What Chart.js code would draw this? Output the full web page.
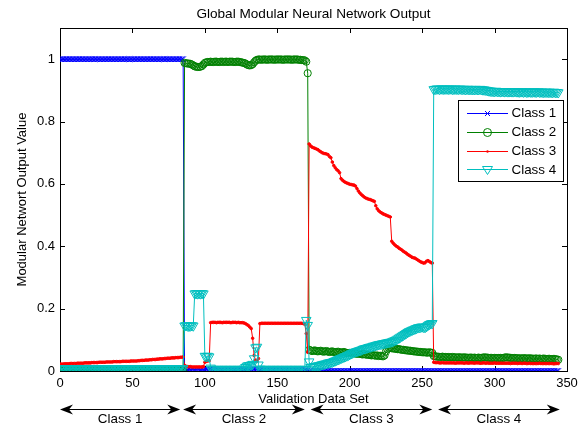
<!DOCTYPE html>
<html>
<head>
<meta charset="utf-8">
<script src="https://cdn.jsdelivr.net/npm/chart.js@4.4.0/dist/chart.umd.min.js"></script>
<style>
  html, body { margin: 0; padding: 0; background: #fff; }
  canvas { display: block; }
</style>
</head>
<body>
<canvas id="modular_chart" width="585" height="428"></canvas>
<script>
const chartTitle = 'Global Modular Neural Network Output';
const xTitle = 'Validation Data Set';
const yTitle = 'Modular Networt Output Value';

const classNames = ['Class 1', 'Class 2', 'Class 3', 'Class 4'];
const classColors = ['#0000ff', '#008000', '#ff0000', '#00bfbf'];

const xTickValues = [0, 50, 100, 150, 200, 250, 300, 350];
const xTickLabels = ['0', '50', '100', '150', '200', '250', '300', '350'];
const yTickValues = [0, 0.2, 0.4, 0.6, 0.8, 1];
const yTickLabels = ['0', '0.2', '0.4', '0.6', '0.8', '1'];

// sample ranges under the arrows below the axis (data units)
const arrowSpans = [[0, 83], [85, 169], [173, 257], [261, 345]];

// output of each class neuron, one value per validation sample (0..344)
const class1Out = [
  1,1,1,1,1,1,1,1,1,1, 1,1,1,1,1,1,1,1,1,1, 1,1,1,1,1,1,1,1,1,1, 1,1,1,1,1,1,1,1,1,1,
  1,1,1,1,1,1,1,1,1,1, 1,1,1,1,1,1,1,1,1,1, 1,1,1,1,1,1,1,1,1,1, 1,1,1,1,1,1,1,1,1,1,
  1,1,1,1,1,1,
  .004,.005,.005,.006,.005,.005,.006,.005,.005,.006, .005,.005,.006,.005,.005,.005,.004,.004,.004,.003,
  .003,.003,.003,.003,.003,.003,.003,.003,.003,.003, .003,.003,.003,.003,.003,.003,.003,.003,.003,.003,
  .003,.003,.003,.003,.003,.004,.005,.006,.006,.006, .006,.005,.004,.003,.003,.003,.003,.003,.003,.003,
  .003,.003,.003,.003,.003,.003,.003,.003,.003,.003, .003,.003,.003,.003,.003,.003,.003,.003,.003,.003,
  .003,.003,.003,.003,.003,.002,
  0,0,0,0,0,0,0,0,0,0, 0,0,0,0,0,0,0,0,0,0, 0,0,0,0,0,0,0,0,0,0, 0,0,0,0,0,0,0,0,0,0,
  0,0,0,0,0,0,0,0,0,0, 0,0,0,0,0,0,0,0,0,0, 0,0,0,0,0,0,0,0,0,0, 0,0,0,0,0,0,0,0,0,0,
  0,0,0,0,0,0,
  0,0,0,0,0,0,0,0,0,0, 0,0,0,0,0,0,0,0,0,0, 0,0,0,0,0,0,0,0,0,0, 0,0,0,0,0,0,0,0,0,0,
  0,0,0,0,0,0,0,0,0,0, 0,0,0,0,0,0,0,0,0,0, 0,0,0,0,0,0,0,0,0,0, 0,0,0,0,0,0,0,0,0,0,
  0,0,0,0,0,0,0
];

const class2Out = [
  .003,.002,.002,.003,.002,.002,.002,.003,.002,.002, .003,.002,.002,.003,.002,.002,.002,.003,.002,.002,
  .003,.002,.002,.003,.002,.002,.002,.003,.002,.002, .003,.002,.002,.003,.002,.002,.002,.003,.002,.002,
  .003,.002,.002,.003,.002,.002,.002,.003,.002,.002, .003,.002,.002,.003,.002,.002,.002,.003,.002,.002,
  .003,.002,.002,.003,.002,.002,.002,.003,.002,.002, .003,.002,.002,.003,.002,.002,.002,.003,.002,.002,
  .002,.002,.003,.002,.002,.002,
  .988,.987,.986,.986,.985,.983,.980,.977,.976,.975, .975,.976,.978,.983,.988,.990,.991,.991,.992,.991,
  .991,.992,.992,.991,.991,.992,.992,.991,.992,.992, .991,.992,.992,.992,.991,.991,.992,.992,.991,.990,
  .989,.988,.986,.983,.981,.980,.981,.984,.990,.995, .998,.999,.999,.998,.999,.999,.999,.998,.999,.999,
  .999,.999,.998,.999,.999,.999,.999,.999,.998,.999, .999,.999,.999,.999,.998,.999,.999,.999,.999,.998,
  .998,.997,.997,.996,.992,.955,
  .068,.066,.064,.065,.066,.064,.063,.064,.065,.063, .062,.063,.064,.062,.061,.062,.063,.061,.060,.061,
  .062,.060,.059,.060,.061,.059,.058,.057,.058,.057, .056,.057,.056,.055,.056,.055,.054,.053,.054,.053,
  .052,.053,.051,.050,.051,.050,.049,.050,.048,.049, .048,.047,.050,.062,.070,.073,.074,.073,.072,.072,
  .071,.070,.070,.069,.068,.068,.067,.066,.066,.065, .065,.064,.063,.063,.062,.062,.061,.061,.060,.060,
  .060,.059,.059,.060,.059,.058,
  .048,.047,.046,.046,.045,.045,.046,.045,.045,.044, .045,.044,.044,.045,.044,.044,.043,.044,.044,.043,
  .043,.044,.043,.043,.042,.043,.043,.042,.043,.042, .042,.043,.042,.042,.043,.044,.043,.043,.042,.042,
  .042,.041,.042,.042,.041,.042,.042,.041,.042,.043, .044,.043,.043,.042,.042,.041,.042,.041,.041,.040,
  .041,.040,.041,.041,.040,.040,.041,.040,.040,.039, .040,.040,.039,.040,.039,.039,.040,.039,.038,.039,
  .039,.038,.038,.039,.038,.037,.036
];

const class3Out = [
  .022,.022,.022,.023,.023,.023,.023,.024,.024,.024, .024,.024,.025,.025,.025,.025,.025,.026,.026,.026,
  .026,.026,.027,.027,.027,.027,.027,.028,.028,.028, .028,.028,.029,.029,.029,.029,.029,.030,.030,.030,
  .030,.030,.030,.031,.031,.031,.031,.031,.031,.032, .032,.032,.032,.032,.033,.033,.034,.034,.034,.035,
  .035,.035,.036,.036,.037,.037,.037,.038,.038,.039, .039,.039,.040,.040,.041,.041,.041,.042,.042,.042,
  .043,.043,.043,.044,.044,.045,
  .018,.015,.014,.014,.014,.013,.013,.013,.013,.013, .013,.013,.013,.014,.028,.031,.032,.033,.155,.156,
  .156,.156,.155,.156,.156,.156,.155,.156,.156,.156, .156,.156,.155,.156,.156,.156,.155,.156,.155,.155,
  .155,.154,.152,.149,.146,.141,.136,.105,.050,.034, .032,.040,.152,.153,.153,.153,.153,.153,.153,.153,
  .153,.153,.153,.153,.153,.153,.153,.153,.153,.153, .153,.153,.153,.153,.153,.153,.153,.153,.153,.153,
  .153,.153,.152,.150,.120,.060,
  .728,.722,.718,.716,.714,.712,.710,.706,.703,.700, .698,.697,.696,.694,.688,.684,.670,.659,.652,.646,
  .642,.636,.617,.612,.608,.605,.603,.601,.599,.598, .597,.596,.593,.585,.577,.571,.566,.562,.558,.555,
  .553,.551,.550,.548,.546,.544,.530,.520,.514,.510, .507,.504,.502,.500,.498,.496,.494,.416,.410,.405,
  .401,.398,.394,.391,.388,.384,.381,.378,.374,.371, .368,.365,.363,.362,.359,.356,.353,.350,.348,.346,
  .347,.352,.354,.351,.348,.346,
  .028,.027,.027,.027,.026,.026,.027,.026,.026,.026, .026,.026,.026,.026,.026,.025,.026,.026,.026,.026,
  .026,.025,.026,.026,.025,.026,.026,.026,.025,.026, .026,.026,.025,.025,.026,.026,.025,.026,.025,.025,
  .025,.025,.026,.025,.025,.025,.025,.025,.025,.025, .025,.025,.025,.024,.025,.025,.025,.025,.024,.025,
  .025,.024,.025,.025,.024,.024,.025,.024,.024,.024, .024,.024,.024,.025,.024,.024,.024,.024,.024,.024,
  .024,.024,.024,.023,.024,.024,.024
];

const class4Out = [
  .008,.007,.008,.008,.007,.008,.008,.007,.008,.008, .008,.007,.008,.008,.007,.008,.008,.007,.008,.008,
  .008,.007,.008,.008,.007,.008,.008,.007,.008,.008, .008,.007,.008,.008,.007,.008,.008,.007,.008,.008,
  .008,.007,.008,.008,.007,.008,.008,.007,.008,.008, .008,.007,.008,.008,.007,.008,.008,.007,.008,.008,
  .008,.007,.008,.008,.007,.008,.008,.007,.008,.008, .008,.007,.008,.008,.007,.008,.008,.007,.008,.008,
  .008,.007,.008,.008,.007,.008,
  .145,.146,.145,.144,.145,.146,.145,.248,.249,.248, .249,.248,.249,.248,.048,.047,.048,.046,.010,.006,
  .006,.005,.006,.006,.005,.006,.006,.005,.006,.006, .005,.006,.006,.005,.006,.006,.005,.006,.006,.005,
  .006,.007,.012,.016,.018,.018,.020,.022,.040,.075, .077,.020,.007,.006,.005,.006,.006,.005,.006,.006,
  .005,.006,.006,.005,.006,.006,.005,.006,.006,.005, .006,.006,.005,.006,.006,.005,.006,.006,.005,.006,
  .006,.005,.006,.006,.163,.147,
  .030,.012,.013,.014,.015,.016,.017,.018,.019,.021, .022,.023,.024,.026,.027,.028,.029,.031,.033,.035,
  .037,.039,.041,.043,.045,.047,.049,.051,.053,.056, .058,.060,.062,.063,.065,.066,.068,.070,.072,.073,
  .074,.076,.077,.078,.080,.081,.082,.084,.085,.086, .087,.088,.089,.090,.091,.092,.093,.094,.096,.098,
  .100,.103,.106,.109,.112,.115,.118,.121,.124,.127, .129,.131,.133,.135,.137,.139,.140,.141,.142,.141,
  .140,.143,.147,.150,.152,.153,
  .903,.904,.905,.905,.904,.905,.905,.904,.905,.905, .904,.905,.905,.904,.904,.905,.904,.904,.905,.904,
  .904,.904,.903,.904,.904,.903,.904,.903,.903,.904, .903,.903,.904,.903,.902,.902,.901,.900,.899,.898,
  .898,.897,.897,.898,.897,.897,.896,.897,.897,.896, .897,.896,.896,.897,.896,.896,.897,.896,.896,.895,
  .896,.896,.895,.896,.895,.895,.896,.895,.895,.896, .895,.895,.896,.895,.895,.895,.894,.895,.895,.894,
  .895,.894,.894,.895,.894,.894,.893
];

const seriesValues = [class1Out, class2Out, class3Out, class4Out];
const markerStyles = [
  { pointStyle: 'crossRot', radius: 4, rotation: 0, fill: 'transparent' },
  { pointStyle: 'circle', radius: 3.6, rotation: 0, fill: 'transparent' },
  { pointStyle: 'circle', radius: 1.3, rotation: 0, fill: '#ff0000' },
  { pointStyle: 'triangle', radius: 5.5, rotation: 180, fill: 'transparent' }
];

Chart.defaults.font.family = '"Liberation Sans", Arial, Helvetica, sans-serif';
Chart.defaults.font.size = 13;
Chart.defaults.color = '#000';

const ctx = document.getElementById('modular_chart');

function drawMarker(c, i, x, y) {
  const color = classColors[i];
  c.save();
  c.strokeStyle = color;
  c.fillStyle = color;
  c.lineWidth = 1;
  c.beginPath();
  if (i === 0) {
    c.moveTo(x - 2.5, y - 2.5); c.lineTo(x + 2.5, y + 2.5);
    c.moveTo(x + 2.5, y - 2.5); c.lineTo(x - 2.5, y + 2.5);
    c.stroke();
  } else if (i === 1) {
    c.arc(x, y, 4, 0, Math.PI * 2);
    c.stroke();
  } else if (i === 2) {
    c.arc(x, y, 1.2, 0, Math.PI * 2);
    c.fill();
  } else {
    c.moveTo(x - 5, y - 3); c.lineTo(x + 5, y - 3); c.lineTo(x, y + 5); c.closePath();
    c.stroke();
  }
  c.restore();
}

const matlabFrame = {
  id: 'matlabFrame',
  beforeDatasetsDraw(chart) {
    const c = chart.ctx;
    const a = chart.chartArea;
    const xs = chart.scales.x, ys = chart.scales.y;
    c.save();
    c.strokeStyle = '#000';
    c.lineWidth = 1;
    c.beginPath();
    xTickValues.forEach(v => {
      const px = Math.round(xs.getPixelForValue(v)) + 0.5;
      c.moveTo(px, a.bottom); c.lineTo(px, a.bottom - 5);
      c.moveTo(px, a.top); c.lineTo(px, a.top + 5);
    });
    yTickValues.forEach(v => {
      const py = Math.round(ys.getPixelForValue(v)) + 0.5;
      c.moveTo(a.left, py); c.lineTo(a.left + 5, py);
      c.moveTo(a.right, py); c.lineTo(a.right - 5, py);
    });
    c.stroke();
    c.strokeRect(Math.round(a.left) + 0.5, Math.round(a.top) + 0.5,
      Math.round(a.right - a.left), Math.round(a.bottom - a.top));
    c.restore();
  },
  afterDatasetsDraw(chart) {
    // legend box, top right inside the axes
    const c = chart.ctx;
    const bx = 458.5, by = 100.5, bw = 105, bh = 81;
    c.save();
    c.fillStyle = '#fff';
    c.fillRect(bx, by, bw, bh);
    c.strokeStyle = '#000';
    c.lineWidth = 1;
    c.strokeRect(bx, by, bw, bh);
    c.font = '13.4px "Liberation Sans", Arial, sans-serif';
    c.textBaseline = 'middle';
    c.textAlign = 'left';
    classNames.forEach((name, i) => {
      const y = 113 + i * 18.8;
      c.strokeStyle = classColors[i];
      c.beginPath();
      c.moveTo(467, Math.round(y) + 0.5); c.lineTo(508, Math.round(y) + 0.5);
      c.stroke();
      drawMarker(c, i, 487.5, Math.round(y) + 0.5);
      c.fillStyle = '#000';
      c.fillText(name, 511.5, y + 0.5);
    });
    c.restore();
  },
  afterDraw(chart) {
    const c = chart.ctx;
    const a = chart.chartArea;
    const xs = chart.scales.x;
    c.save();
    c.fillStyle = '#000';
    c.font = '13.6px "Liberation Sans", Arial, sans-serif';
    c.textAlign = 'center';
    c.textBaseline = 'middle';
    c.fillText(chartTitle, (a.left + a.right) / 2, 14.5);

    // class arrows under the x axis
    c.font = '13.4px "Liberation Sans", Arial, sans-serif';
    const ay = 409.5;
    c.strokeStyle = '#000';
    c.lineWidth = 1.2;
    arrowSpans.forEach((span, i) => {
      const x1 = xs.getPixelForValue(span[0]);
      const x2 = xs.getPixelForValue(span[1]);
      c.beginPath();
      c.moveTo(x1 + 6, ay); c.lineTo(x2 - 6, ay);
      c.stroke();
      [[x1, 1], [x2, -1]].forEach(([x, d]) => {
        c.beginPath();
        c.moveTo(x, ay);
        c.lineTo(x + d * 13, ay - 5);
        c.lineTo(x + d * 9, ay);
        c.lineTo(x + d * 13, ay + 5);
        c.closePath();
        c.fill();
      });
      c.fillText(classNames[i], (x1 + x2) / 2, 419.5);
    });
    c.restore();
  }
};

const datasets = seriesValues.map((vals, i) => ({
  label: classNames[i],
  data: vals.map((v, k) => ({ x: k, y: v })),
  borderColor: classColors[i],
  borderWidth: 1,
  pointStyle: markerStyles[i].pointStyle,
  pointRadius: markerStyles[i].radius,
  pointRotation: markerStyles[i].rotation,
  pointBorderColor: classColors[i],
  pointBackgroundColor: markerStyles[i].fill,
  pointBorderWidth: 1,
  pointHoverRadius: markerStyles[i].radius,
  tension: 0,
  fill: false,
  order: 3 - i
}));

const chart = new Chart(ctx, {
  type: 'line',
  data: { datasets: datasets },
  options: {
    responsive: false,
    animation: false,
    events: [],
    layout: { padding: { top: 28, right: 18, left: 0, bottom: 0 } },
    plugins: {
      legend: { display: false },
      tooltip: { enabled: false },
      title: { display: false }
    },
    scales: {
      x: {
        type: 'linear',
        min: 0,
        max: 350,
        grid: { display: false, drawTicks: false },
        border: { display: false },
        ticks: {
          autoSkip: false,
          maxRotation: 0,
          padding: 5,
          color: '#000',
          callback: (v, idx) => xTickLabels[idx]
        },
        afterBuildTicks: s => { s.ticks = xTickValues.map(v => ({ value: v })); },
        title: { display: true, text: xTitle, color: '#000', padding: { top: 0, bottom: 21 } },
        afterFit: s => { s.height = 57; }
      },
      y: {
        type: 'linear',
        min: 0,
        max: 1.1,
        grid: { display: false, drawTicks: false },
        border: { display: false },
        ticks: {
          padding: 5,
          color: '#000',
          callback: (v, idx) => yTickLabels[idx]
        },
        afterBuildTicks: s => { s.ticks = yTickValues.map(v => ({ value: v })); },
        title: { display: true, text: yTitle, color: '#000', padding: { top: 15, bottom: 0 } },
        afterFit: s => { s.width = 60; }
      }
    }
  },
  plugins: [matlabFrame]
});
</script>
</body>
</html>
